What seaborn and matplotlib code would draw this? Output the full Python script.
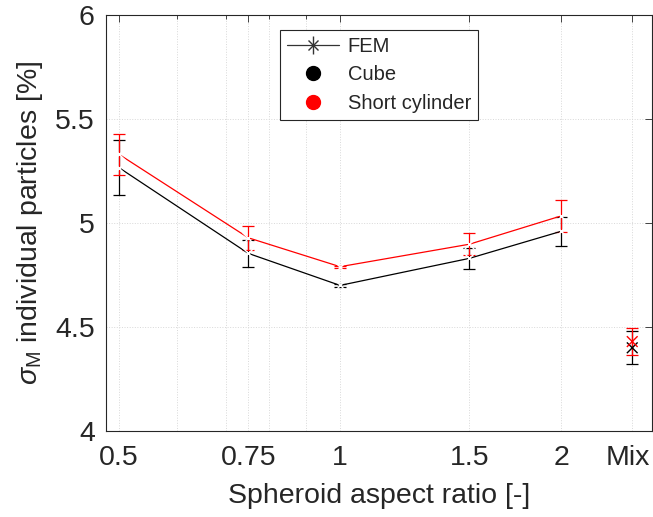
import matplotlib
matplotlib.use("Agg")
import matplotlib.pyplot as plt
import matplotlib.transforms as mtransforms
from matplotlib.lines import Line2D
from matplotlib.legend_handler import HandlerTuple
from matplotlib.ticker import FixedLocator, NullFormatter
import seaborn as sns
import pandas as pd

sns.set_style("white")
plt.rcParams['font.family'] = ['Liberation Sans', 'DejaVu Sans']
plt.rcParams['mathtext.fontset'] = 'custom'
plt.rcParams['mathtext.it'] = 'Liberation Sans:italic'
plt.rcParams['mathtext.rm'] = 'Liberation Sans'

# aspect ratios (Mix is drawn at 2.5)
ratios = [0.5, 0.75, 1, 1.5, 2, 2.5]
tick_labels = ["0.5", "0.75", "1", "1.5", "2", "Mix"]

cube_mean = [5.266, 4.854, 4.700, 4.830, 4.960, 4.400]
cube_err = [0.133, 0.065, 0.006, 0.050, 0.070, 0.080]
cyl_mean = [5.330, 4.929, 4.790, 4.898, 5.034, 4.430]
cyl_err = [0.100, 0.058, 0.005, 0.053, 0.075, 0.065]

df = pd.DataFrame({
    "ratio": ratios * 2,
    "value": cube_mean + cyl_mean,
    "err": cube_err + cyl_err,
    "shape": ["Cube"] * 6 + ["Short cylinder"] * 6,
})
palette = {"Cube": "black", "Short cylinder": "red"}

fig = plt.figure(figsize=(6.53, 5.17), dpi=100)
ax = fig.add_axes([0.1623, 0.1663, 0.8362, 0.8047])
ax.set_xscale("log")

# connected part (without Mix)
line_df = df[df["ratio"] <= 2]
sns.lineplot(data=line_df, x="ratio", y="value", hue="shape", palette=palette,
             marker="x", markersize=8, markeredgewidth=1, lw=0.9,
             legend=False, ax=ax, zorder=3)
mix_df = df[df["ratio"] > 2]
sns.scatterplot(data=mix_df, x="ratio", y="value", hue="shape", palette=palette,
                marker="x", s=60, linewidth=1, legend=False, ax=ax, zorder=3)

for shape, g in df.groupby("shape"):
    ax.errorbar(g["ratio"], g["value"], yerr=g["err"], fmt="none",
                ecolor=palette[shape], elinewidth=0.9, capsize=4.5,
                capthick=0.9, zorder=2)

ax.set_xlim(0.48, 2.66)
ax.set_ylim(4, 6)
ax.xaxis.set_major_locator(FixedLocator(ratios))
ax.set_xticklabels(tick_labels)
ax.xaxis.set_minor_locator(FixedLocator([0.6, 0.7, 0.8, 0.9]))
ax.xaxis.set_minor_formatter(NullFormatter())
ax.set_yticks([4, 4.5, 5, 5.5, 6])
ax.set_yticklabels(["4", "4.5", "5", "5.5", "6"])

ax.grid(True, which="both", axis="x", ls=":", color="#d8d8d8", lw=0.7)
ax.grid(True, which="major", axis="y", ls=":", color="#d8d8d8", lw=0.7)

ax.tick_params(which="both", direction="in", top=True, right=True,
               labelsize=20.5, colors="#262626")
ax.tick_params(axis="x", pad=10)
ax.tick_params(axis="y", pad=8)
ax.tick_params(which="major", length=5, width=0.6)
ax.tick_params(which="minor", length=3, width=0.6)
for s in ax.spines.values():
    s.set_color("#262626")
    s.set_linewidth(0.8)

# keep "Mix" inside the canvas
mix_lbl = ax.get_xticklabels()[-1]
mix_lbl.set_transform(mix_lbl.get_transform() +
                      mtransforms.ScaledTranslation(-4 / 100, 0, fig.dpi_scale_trans))

ax.set_xlabel("Spheroid aspect ratio [-]", fontsize=20.5, color="#262626", labelpad=9)
ax.set_ylabel(r"$\sigma_{\rm M}$ individual particles [%]", fontsize=20.5,
              color="#262626", labelpad=7)

fem = (Line2D([], [], color="#333333", lw=0.9, marker="x", markersize=7),
       Line2D([], [], color="#333333", lw=0, marker="|", markersize=13))
cube_h = Line2D([], [], color="black", lw=0, marker="o", markersize=10)
cyl_h = Line2D([], [], color="red", lw=0, marker="o", markersize=10)
leg = ax.legend([fem, cube_h, cyl_h], ["FEM", "Cube", "Short cylinder"],
                handler_map={tuple: HandlerTuple(ndivide=1, pad=0)},
                loc="upper center", bbox_to_anchor=(0.5, 0.963), fontsize=14.5,
                frameon=True, fancybox=False, edgecolor="#262626",
                framealpha=1, handlelength=2.6, handletextpad=0.4,
                borderpad=0.35, labelspacing=0.45, borderaxespad=0)
leg.get_frame().set_linewidth(0.8)

fig.savefig("out.png", dpi=100)
